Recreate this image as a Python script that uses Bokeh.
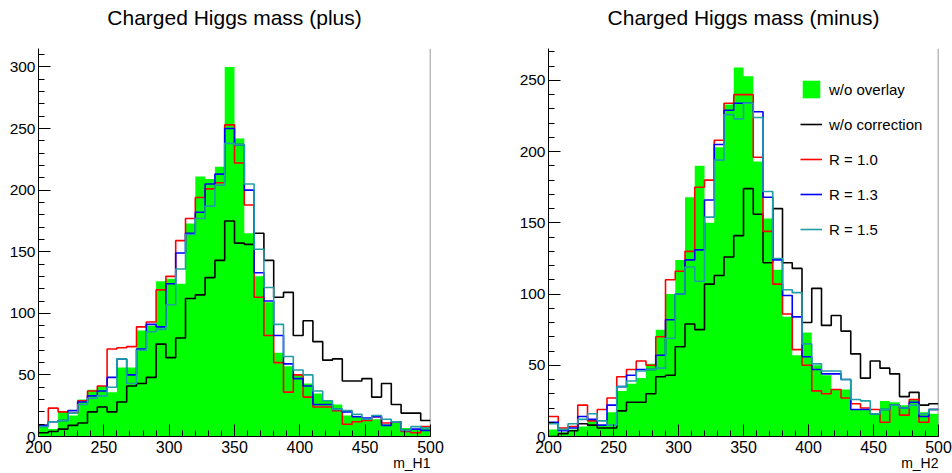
from bokeh.plotting import figure
from bokeh.layouts import row
from bokeh.models import Range1d, Legend, LegendItem, Title, SingleIntervalTicker
from bokeh.embed import file_html
from bokeh.resources import INLINE

# histogram binning
x_min = 200.0
bin_width = 7.5
n_bins = 40

# ---- left panel: Charged Higgs mass (plus) ----
left_wo_overlay = [8, 6, 20, 17, 30, 38, 41, 36, 56, 56, 86, 90, 126, 128, 124, 173, 211, 209, 219, 300,
                   242, 165, 130, 109, 68, 57, 50, 43, 35, 29, 26, 17, 16, 14, 14, 10, 11, 7, 6, 7]
left_wo_corr = [3, 4, 6, 9, 11, 20, 24, 20, 28, 41, 43, 48, 75, 64, 80, 112, 115, 129, 143, 175,
                157, 156, 165, 143, 113, 117, 82, 94, 77, 62, 63, 45, 45, 47, 32, 43, 26, 19, 19, 13]
left_r10 = [9, 23, 20, 19, 29, 37, 41, 71, 72, 73, 89, 93, 119, 130, 159, 177, 194, 201, 206, 253,
            222, 188, 113, 82, 60, 36, 50, 32, 24, 24, 21, 10, 12, 13, 16, 11, 12, 4, 3, 8]
left_r13 = [9, 12, 13, 21, 28, 33, 37, 48, 63, 50, 71, 91, 89, 124, 149, 165, 182, 205, 213, 250,
            237, 200, 133, 110, 82, 59, 47, 41, 26, 26, 22, 20, 16, 15, 16, 9, 12, 5, 6, 5]
left_r15 = [8, 12, 13, 19, 26, 31, 33, 40, 63, 43, 70, 85, 87, 107, 136, 164, 177, 187, 204, 238,
            237, 205, 152, 121, 91, 65, 54, 50, 37, 29, 22, 21, 18, 14, 17, 14, 12, 5, 8, 7]

# ---- right panel: Charged Higgs mass (minus) ----
right_wo_overlay = [5, 3, 5, 7, 12, 8, 17, 32, 37, 41, 51, 75, 100, 124, 168, 190, 150, 203, 233, 259,
                    253, 193, 153, 117, 84, 57, 73, 50, 43, 33, 33, 19, 19, 16, 25, 24, 22, 26, 17, 16]
right_wo_corr = [0, 2, 4, 9, 8, 6, 6, 18, 24, 24, 30, 42, 43, 63, 79, 75, 107, 113, 126, 141,
                 174, 156, 122, 160, 122, 118, 80, 104, 78, 85, 74, 58, 41, 53, 48, 44, 28, 31, 22, 23]
right_r10 = [14, 6, 7, 22, 11, 19, 27, 42, 47, 53, 50, 70, 110, 116, 130, 175, 180, 208, 234, 240,
             240, 196, 144, 107, 86, 61, 50, 32, 30, 33, 27, 23, 20, 19, 10, 22, 15, 26, 10, 19]
right_r13 = [10, 4, 6, 14, 12, 8, 22, 35, 43, 47, 47, 57, 82, 100, 124, 131, 166, 205, 229, 234,
             234, 228, 168, 124, 99, 84, 56, 47, 44, 44, 40, 19, 19, 16, 19, 22, 20, 24, 14, 19]
right_r15 = [9, 5, 9, 12, 16, 11, 8, 35, 39, 46, 47, 48, 69, 100, 119, 109, 154, 194, 226, 223,
             234, 224, 172, 125, 103, 101, 65, 51, 46, 46, 40, 26, 25, 16, 19, 22, 20, 22, 16, 19]

legend_labels = ["w/o overlay", "w/o correction", "R = 1.0", "R = 1.3", "R = 1.5"]
line_colors = ["#000000", "#ff0000", "#0000ff", "#1f9ea6"]
fill_color = "#00ff00"
FONT = "Liberation Sans"

edges = [x_min + bin_width * i for i in range(n_bins + 1)]


def panel(title, xlabel, filled, lines, ymax, border_left, border_right, width, with_legend):
    p = figure(width=width, height=473, x_range=Range1d(200, 500), y_range=Range1d(0, ymax),
               output_backend="svg", toolbar_location=None, title=None,
               min_border_left=border_left, min_border_right=border_right,
               min_border_top=48, min_border_bottom=37)
    p.grid.visible = False
    p.background_fill_color = "white"
    p.border_fill_color = "white"
    p.outline_line_color = None

    # spacer between frame and title (closest to the frame), then the title itself
    p.add_layout(Title(text=" ", text_font=FONT, text_font_size="10px", standoff=7), "above")
    p.add_layout(Title(text=title, text_font=FONT, text_font_size="21px", text_font_style="normal",
                       align="center", text_color="black", standoff=0), "above")

    for ax in (p.xaxis[0], p.yaxis[0]):
        ax.axis_line_color = "black"
        ax.axis_line_width = 1
        ax.major_tick_in = 12
        ax.major_tick_out = 0
        ax.minor_tick_in = 6
        ax.minor_tick_out = 0
        ax.major_tick_line_color = "black"
        ax.minor_tick_line_color = "black"
        ax.major_label_text_font = FONT
        ax.major_label_text_color = "black"
    p.xaxis.ticker = SingleIntervalTicker(interval=50, num_minor_ticks=5)
    p.yaxis.ticker = SingleIntervalTicker(interval=50, num_minor_ticks=5)
    p.xaxis.major_label_text_font_size = "16px"
    p.yaxis.major_label_text_font_size = "15.5px"
    p.xaxis.major_label_standoff = 4
    p.yaxis.major_label_standoff = 3

    xt = Title(text=xlabel, align="right", text_font=FONT, text_font_size="14px",
               text_font_style="normal", text_color="black", standoff=-5, offset=0)
    p.add_layout(xt, "below")

    # right frame edge
    p.line(x=[500, 500], y=[0, ymax], line_color="#777777", line_width=1.5)

    r_fill = p.varea_step(x=edges, y1=[0] * len(edges), y2=list(filled) + [filled[-1]],
                          step_mode="after", fill_color=fill_color)
    renderers = [r_fill]
    for vals, col in zip(lines, line_colors):
        ys = list(vals) + [vals[-1]]
        r = p.step(x=edges, y=ys, mode="after", line_color=col, line_width=1.6)
        renderers.append(r)

    if with_legend:
        items = [LegendItem(label=lab, renderers=[r]) for lab, r in zip(legend_labels, renderers)]
        leg = Legend(items=items, location=(252, 196), orientation="vertical",
                     glyph_width=22, glyph_height=22, label_height=22, spacing=13,
                     label_standoff=7, padding=0, margin=0,
                     border_line_alpha=0, background_fill_alpha=0,
                     label_text_font=FONT, label_text_font_size="15px", label_text_color="black")
        p.add_layout(leg)
    return p


p1 = panel("Charged Higgs mass (plus)", "m_H1", left_wo_overlay,
           [left_wo_corr, left_r10, left_r13, left_r15], 315, 38, 46, 476, False)
p2 = panel("Charged Higgs mass (minus)", "m_H2", right_wo_overlay,
           [right_wo_corr, right_r10, right_r13, right_r15], 272.4, 72, 14, 476, True)

layout = row(p1, p2, spacing=0)
open("out.html", "w").write(file_html(layout, INLINE))
